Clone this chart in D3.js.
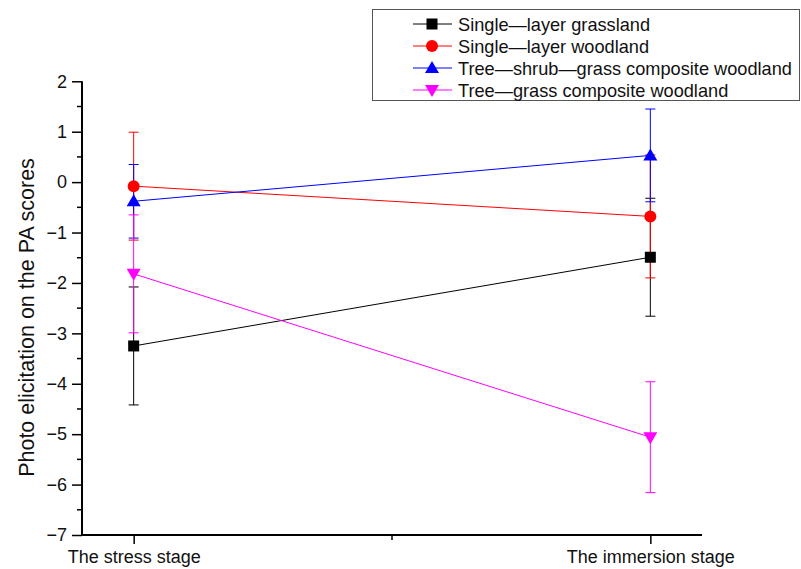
<!DOCTYPE html>
<html>
<head>
<meta charset="utf-8">
<script src="https://cdn.jsdelivr.net/npm/d3@7"></script>
<style>
  body { margin: 0; background: #fff; }
  text { font-family: "Liberation Sans", Arial, sans-serif; }
</style>
</head>
<body>
<svg id="chart" width="801" height="569"></svg>
<script>
  // Data
  const stages = ["The stress stage", "The immersion stage"];
  const seriesNames = [
    "Single\u2014layer grassland",
    "Single\u2014layer woodland",
    "Tree\u2014shrub\u2014grass composite woodland",
    "Tree\u2014grass composite woodland"
  ];
  const means = [
    [-3.25, -1.49],
    [-0.08, -0.68],
    [-0.38, 0.53],
    [-1.82, -5.06]
  ];
  const errors = [
    [1.17, 1.17],
    [1.07, 1.22],
    [0.73, 0.92],
    [1.17, 1.1]
  ];
  const yTicks = [2, 1, 0, -1, -2, -3, -4, -5, -6, -7];

  const colors = ["#000000", "#ff0000", "#0000ff", "#ff00ff"];
  const symbols = ["square", "circle", "up", "down"];

  const svg = d3.select("#chart");

  // Scales
  const x = d3.scaleLinear().domain([0.9, 2.1]).range([82, 702]);
  const y = d3.scaleLinear().domain([-7, 2]).range([535, 81.3]);

  // Y axis
  const yAxis = svg.append("g")
    .attr("transform", "translate(82,0)")
    .call(d3.axisLeft(y).tickValues(yTicks).tickSize(10).tickPadding(5).tickFormat(d3.format("d")));
  yAxis.select(".domain").attr("stroke-width", 2).attr("d", `M0,${y(2)}V${y(-7)}`);
  yAxis.selectAll(".tick line").attr("stroke-width", 1.5);
  yAxis.selectAll(".tick text").attr("font-size", 18).attr("fill", "#111");
  // minor ticks
  svg.append("g")
    .selectAll("line")
    .data(d3.range(-6.5, 2, 1))
    .join("line")
    .attr("x1", 77).attr("x2", 82)
    .attr("y1", (d) => y(d)).attr("y2", (d) => y(d))
    .attr("stroke", "#000").attr("stroke-width", 1.5);

  // X axis
  const xAxis = svg.append("g")
    .attr("transform", `translate(0,${y(-7)})`)
    .call(d3.axisBottom(x).tickValues([1, 2]).tickSize(9).tickPadding(6).tickFormat((d) => stages[d - 1]));
  xAxis.select(".domain").attr("stroke-width", 2).attr("d", `M82,0H702`);
  xAxis.selectAll(".tick line").attr("stroke-width", 1.5);
  xAxis.selectAll(".tick text").attr("font-size", 18).attr("fill", "#111");
  svg.append("line")
    .attr("x1", x(1.5)).attr("x2", x(1.5))
    .attr("y1", y(-7)).attr("y2", y(-7) + 5)
    .attr("stroke", "#000").attr("stroke-width", 1.5);

  // Y axis title
  svg.append("text")
    .attr("transform", `translate(34,317.5) rotate(-90)`)
    .attr("text-anchor", "middle")
    .attr("font-size", 21.5)
    .attr("fill", "#111")
    .text("Photo elicitation on the PA scores");

  function marker(g, type, color) {
    if (type === "square") {
      g.append("rect").attr("x", -5.5).attr("y", -5.5).attr("width", 11).attr("height", 11).attr("fill", color);
    } else if (type === "circle") {
      g.append("circle").attr("r", 6).attr("fill", color);
    } else if (type === "up") {
      g.append("path").attr("d", "M0,-7L7,5L-7,5Z").attr("fill", color);
    } else {
      g.append("path").attr("d", "M0,7L7,-5L-7,-5Z").attr("fill", color);
    }
  }

  const line = d3.line().x((d, i) => x(i + 1)).y((d) => y(d));

  means.forEach((vals, s) => {
    const g = svg.append("g");
    // error bars
    vals.forEach((v, i) => {
      const e = errors[s][i];
      const cx = x(i + 1);
      g.append("line").attr("x1", cx).attr("x2", cx)
        .attr("y1", y(v + e)).attr("y2", y(v - e))
        .attr("stroke", colors[s]).attr("stroke-width", 1);
      [v + e, v - e].forEach((c) => {
        g.append("line").attr("x1", cx - 5).attr("x2", cx + 5)
          .attr("y1", y(c)).attr("y2", y(c))
          .attr("stroke", colors[s]).attr("stroke-width", 1);
      });
    });
    g.append("path").datum(vals)
      .attr("fill", "none").attr("stroke", colors[s]).attr("stroke-width", 1)
      .attr("d", line);
  });
  means.forEach((vals, s) => {
    vals.forEach((v, i) => {
      const m = svg.append("g").attr("transform", `translate(${x(i + 1)},${y(v)})`);
      marker(m, symbols[s], colors[s]);
    });
  });

  // Legend
  const legend = svg.append("g");
  legend.append("rect")
    .attr("x", 372.5).attr("y", 9.5).attr("width", 427).attr("height", 91)
    .attr("fill", "#fff").attr("stroke", "#555").attr("stroke-width", 1);
  seriesNames.forEach((name, s) => {
    const ly = 24 + s * 22;
    const row = legend.append("g");
    row.append("line").attr("x1", 413).attr("x2", 452).attr("y1", ly).attr("y2", ly)
      .attr("stroke", colors[s]).attr("stroke-width", 1);
    marker(row.append("g").attr("transform", `translate(432,${ly})`), symbols[s], colors[s]);
    row.append("text").attr("x", 458).attr("y", ly + 6.5)
      .attr("font-size", 18.2).attr("fill", "#111").text(name);
  });
</script>
</body>
</html>
